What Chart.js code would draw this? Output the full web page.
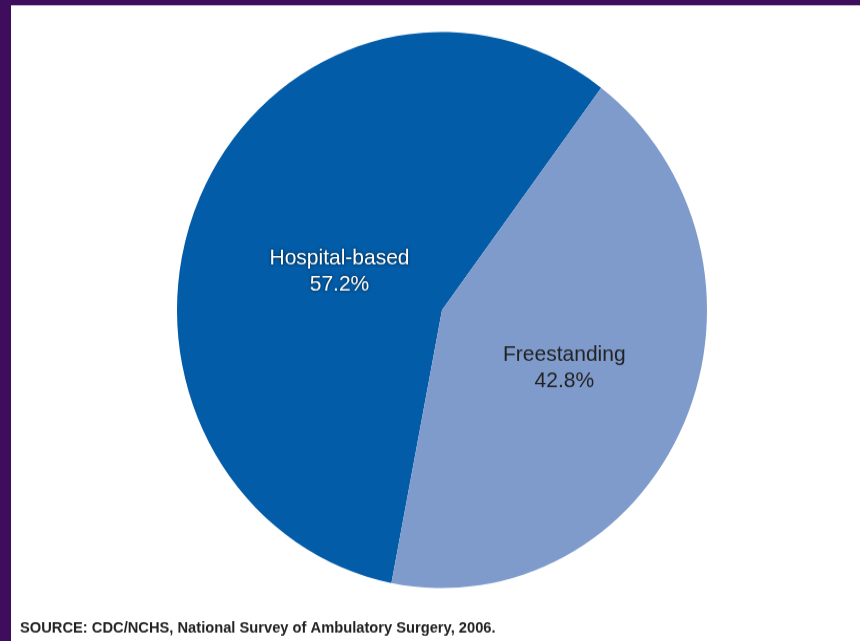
<!DOCTYPE html>
<html>
<head>
<meta charset="utf-8">
<script src="https://cdn.jsdelivr.net/npm/chart.js@4"></script>
<style>
  html, body { margin: 0; padding: 0; background: #3e0e5c; overflow: hidden; }
  canvas { display: block; }
</style>
</head>
<body>
<!-- the source picture is a little taller than wide, so the 611px drawing is shown 641px high -->
<canvas id="pie" width="860" height="611" style="width:860px;height:641px"></canvas>
<script>
// data
const categories = ['Hospital-based', 'Freestanding'];
const shares = [57.2, 42.8];
const sliceColors = ['#035ca8', '#7f9bcb'];
const labelColors = ['#ffffff', '#222222'];
const sourceNote = 'SOURCE: CDC/NCHS, National Survey of Ambulatory Surgery, 2006.';

// label placement (fraction of radius along slice middle, plus a small nudge)
const labelDist = [0.415, 0.505];
const labelNudge = [[-2, 7], [0, 0]];

// purple frame + white panel
const panelBg = {
  id: 'panelBg',
  beforeDraw(chart) {
    const ctx = chart.ctx;
    ctx.save();
    ctx.fillStyle = '#3e0e5c';
    ctx.fillRect(0, 0, chart.width, chart.height);
    ctx.fillStyle = '#ffffff';
    ctx.fillRect(11, 5, chart.width - 11, chart.height - 5);
    ctx.restore();
  }
};

// slice labels inside + source line
const sliceLabels = {
  id: 'sliceLabels',
  afterDatasetsDraw(chart) {
    const ctx = chart.ctx;
    const meta = chart.getDatasetMeta(0);
    ctx.save();
    ctx.textAlign = 'center';
    ctx.textBaseline = 'middle';
    meta.data.forEach((arc, i) => {
      const p = arc.getProps(['x', 'y', 'startAngle', 'endAngle', 'outerRadius'], true);
      const mid = (p.startAngle + p.endAngle) / 2;
      const r = p.outerRadius * labelDist[i];
      const x = p.x + Math.cos(mid) * r + labelNudge[i][0];
      const y = p.y + Math.sin(mid) * r + labelNudge[i][1];
      ctx.font = '21px "Liberation Sans", Arial, sans-serif';
      ctx.fillStyle = labelColors[i];
      if (i === 0) {
        ctx.shadowColor = 'rgba(0,0,0,0.75)';
        ctx.shadowBlur = 3;
      } else {
        ctx.shadowBlur = 0;
      }
      ctx.fillText(categories[i], x, y - 12);
      ctx.fillText(shares[i].toFixed(1) + '%', x, y + 13);
    });
    ctx.shadowBlur = 0;
    ctx.textAlign = 'left';
    ctx.textBaseline = 'alphabetic';
    ctx.fillStyle = '#222222';
    ctx.font = 'bold 14.7px "Liberation Sans", Arial, sans-serif';
    ctx.fillText(sourceNote, 20, 603);
    ctx.restore();
  }
};

const ctx = document.getElementById('pie').getContext('2d');
const chart = new Chart(ctx, {
  type: 'pie',
  data: {
    labels: categories,
    datasets: [{
      data: shares,
      backgroundColor: sliceColors,
      borderWidth: 0
    }]
  },
  options: {
    responsive: false,
    animation: false,
    rotation: 191,
    layout: {
      padding: { left: 177, right: 153, top: 30.5, bottom: 50.5 }
    },
    plugins: {
      legend: { display: false },
      tooltip: { enabled: false }
    }
  },
  plugins: [panelBg, sliceLabels]
});
</script>
</body>
</html>
